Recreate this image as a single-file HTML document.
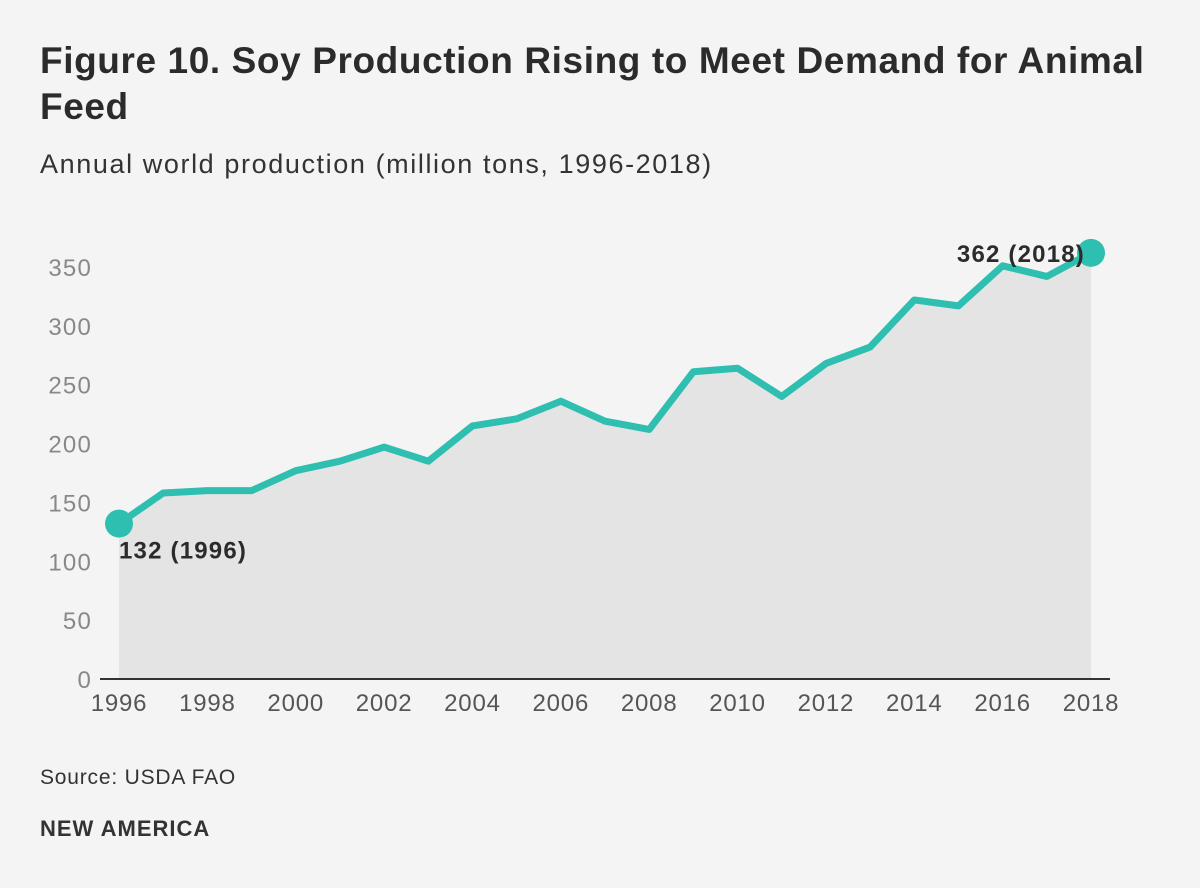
<!DOCTYPE html>
<html><head><meta charset="utf-8"><style>
body{margin:0;background:#f4f4f4;font-family:"Liberation Sans",sans-serif;}
#wrap{position:relative;width:1200px;height:888px;overflow:hidden;background:#f4f4f4;}
h1{position:absolute;left:40px;top:38px;margin:0;font-size:37px;line-height:46px;font-weight:bold;color:#2b2b2b;width:1150px;letter-spacing:0.6px;}
.sub{position:absolute;left:40px;top:149px;font-size:27px;color:#333;letter-spacing:1.6px;}
.src{position:absolute;left:40px;top:766px;font-size:21px;color:#333;letter-spacing:0.8px;}
.brand{position:absolute;left:40px;top:816px;font-size:22px;font-weight:bold;color:#333;letter-spacing:1px;}
svg{position:absolute;left:0;top:0;}
</style></head><body>
<div id="wrap">
<h1>Figure 10. Soy Production Rising to Meet Demand for Animal<br>Feed</h1>
<div class="sub">Annual world production (million tons, 1996-2018)</div>
<svg id="chart" width="1200" height="888"></svg>
<div class="src">Source: USDA FAO</div>
<div class="brand">NEW AMERICA</div>
</div>
<script>
const years=[1996,1997,1998,1999,2000,2001,2002,2003,2004,2005,2006,2007,2008,2009,2010,2011,2012,2013,2014,2015,2016,2017,2018];
const values=[132,158,160,160,177,185,197,185,215,221,236,219,212,261,264,240,268,282,322,317,351,342,362];
const yTicks=[0,50,100,150,200,250,300,350];
const xTicks=[1996,1998,2000,2002,2004,2006,2008,2010,2012,2014,2016,2018];
const NS="http://www.w3.org/2000/svg";
const svg=document.getElementById('chart');
const x=v=>119+(v-1996)*(1091-119)/22;
const y=v=>679-v*(679-267)/350;
function mk(t,a){const e=document.createElementNS(NS,t);for(const k in a)e.setAttribute(k,a[k]);svg.appendChild(e);return e;}
let pts=years.map((yr,i)=>x(yr)+','+y(values[i])).join(' ');
let area=mk('polygon',{points:x(years[0])+','+y(0)+' '+pts+' '+x(years[years.length-1])+','+y(0),fill:'#e4e4e4'});


let ax=mk('line',{x1:100,x2:1110,y1:y(0),y2:y(0),stroke:'#333','stroke-width':2});


yTicks.forEach(v=>{let t=mk('text',{x:92,y:y(v)+9,'text-anchor':'end','font-size':24,'letter-spacing':1.2,fill:'#888','font-family':'Liberation Sans, sans-serif'});t.textContent=v;

});
xTicks.forEach(v=>{let t=mk('text',{x:x(v),y:711,'text-anchor':'middle','font-size':24,'letter-spacing':0.8,fill:'#555','font-family':'Liberation Sans, sans-serif'});t.textContent=v;

});
let line=mk('polyline',{points:pts,fill:'none',stroke:'#2fbfb0','stroke-width':7,'stroke-linejoin':'round'});


[0,years.length-1].forEach(i=>{let c=mk('circle',{cx:x(years[i]),cy:y(values[i]),r:14,fill:'#2fbfb0'});

});
let l1=mk('text',{x:x(years[0]),y:y(values[0])+35,'font-size':24,'letter-spacing':1.2,'font-weight':'bold',fill:'#2b2b2b','font-family':'Liberation Sans, sans-serif'});
l1.textContent=values[0]+' ('+years[0]+')';


let n=years.length-1;
let l2=mk('text',{x:x(years[n])-6,y:y(values[n])+9,'text-anchor':'end','font-size':24,'letter-spacing':1.2,'font-weight':'bold',fill:'#2b2b2b','font-family':'Liberation Sans, sans-serif'});
l2.textContent=values[n]+' ('+years[n]+')';


</script>
</body></html>
